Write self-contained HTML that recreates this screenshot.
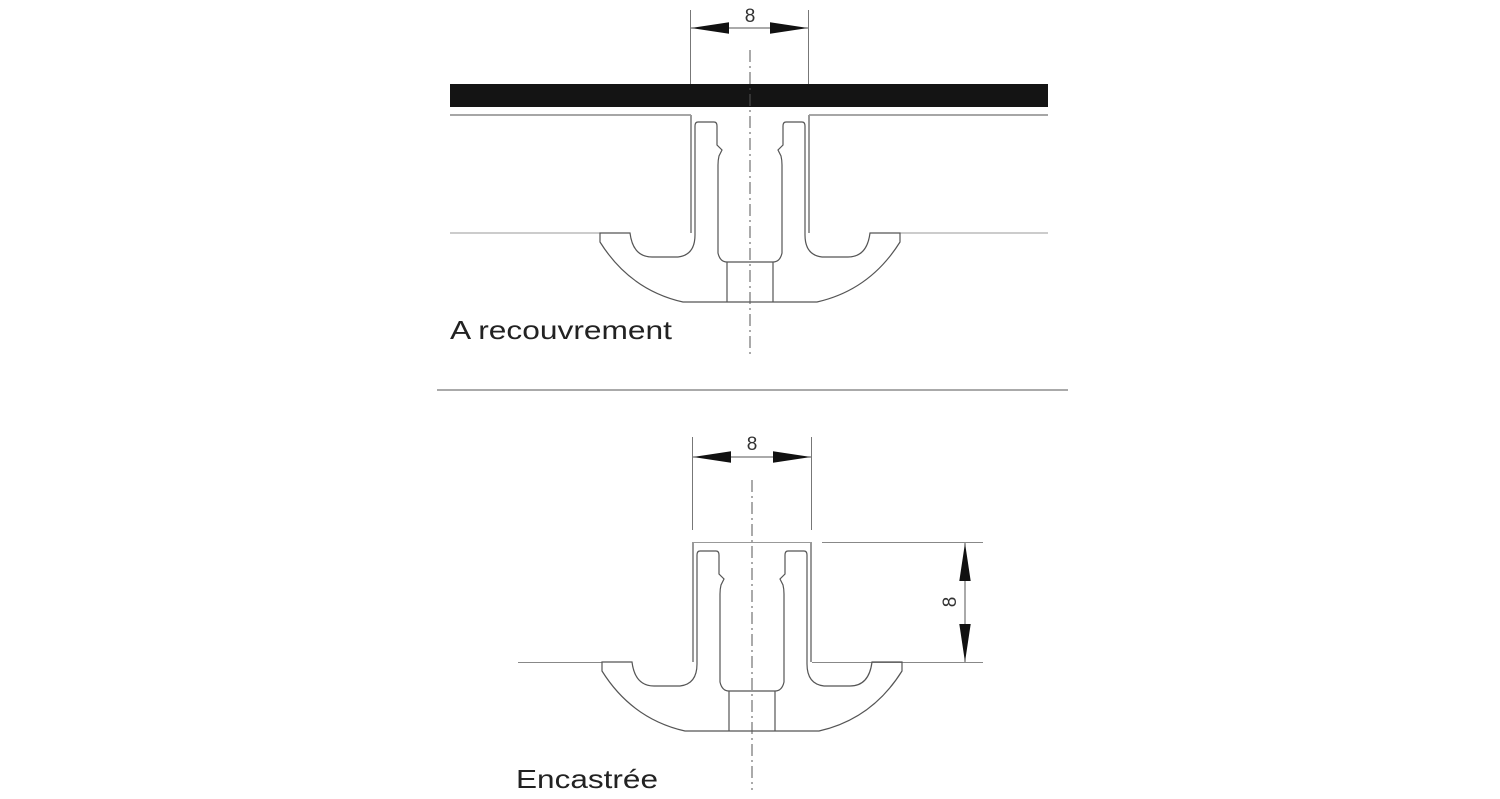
<!DOCTYPE html>
<html><head><meta charset="utf-8"><style>
html,body{margin:0;padding:0;background:#fff;}
svg{display:block;}
</style></head><body>
<svg width="1500" height="799" viewBox="0 0 1500 799" xmlns="http://www.w3.org/2000/svg" font-family="Liberation Sans, sans-serif">
<defs>
<path id="prof" fill="none" stroke="#555" stroke-width="1.2" d="
M600,233 L600,242 Q630,290 683,302 L817,302 Q870,290 900,242 L900,233 L870,233 Q867,257 848,257 L822,257 Q805,255 805,235 L805,126 Q805,122 802,122 L786,122 Q783,122 783,126 L783,145 L778,150 L781,156 Q782,160 782,165 L782,253 Q780,262 773,262 L727,262 Q720,262 718,253 L718,165 Q718,160 719,156 L722,150 L717,145 L717,126 Q717,122 714,122 L698,122 Q695,122 695,126 L695,235 Q695,255 678,257 L652,257 Q633,257 630,233 Z
M727,262 L727,302 M773,262 L773,302"/>
<marker id="ah" viewBox="0 0 40 12" refX="40" refY="6" markerWidth="38" markerHeight="12" markerUnits="userSpaceOnUse" orient="auto"><path d="M0,0 L40,6 L0,12 Z" fill="#111"/></marker>
</defs>

<!-- TOP -->
<line x1="690.5" y1="10" x2="690.5" y2="84" stroke="#777" stroke-width="1"/>
<line x1="808.5" y1="10" x2="808.5" y2="84" stroke="#777" stroke-width="1"/>
<line x1="750" y1="28" x2="691" y2="28" stroke="#555" stroke-width="1" marker-end="url(#ah)"/>
<line x1="750" y1="28" x2="808" y2="28" stroke="#555" stroke-width="1" marker-end="url(#ah)"/>
<text x="750" y="22" font-size="19" text-anchor="middle" fill="#333">8</text>
<rect x="450" y="84" width="598" height="23" fill="#141414"/>
<line x1="450" y1="115" x2="691" y2="115" stroke="#888" stroke-width="1.5"/>
<line x1="809" y1="115" x2="1048" y2="115" stroke="#888" stroke-width="1.5"/>
<line x1="691" y1="115" x2="691" y2="233" stroke="#999" stroke-width="2"/>
<line x1="809" y1="115" x2="809" y2="233" stroke="#999" stroke-width="2"/>
<line x1="450" y1="233" x2="600" y2="233" stroke="#999" stroke-width="1"/>
<line x1="900" y1="233" x2="1048" y2="233" stroke="#999" stroke-width="1"/>
<use href="#prof"/>
<line x1="750" y1="50" x2="750" y2="358" stroke="#555" stroke-width="1" stroke-dasharray="12,4,2,4"/>
<text x="450" y="339" font-size="26" fill="#222" textLength="222" lengthAdjust="spacingAndGlyphs">A recouvrement</text>

<line x1="437" y1="390" x2="1068" y2="390" stroke="#aaa" stroke-width="2"/>

<!-- BOTTOM -->
<line x1="692.5" y1="437" x2="692.5" y2="530" stroke="#777" stroke-width="1"/>
<line x1="811.5" y1="437" x2="811.5" y2="530" stroke="#777" stroke-width="1"/>
<line x1="752" y1="457" x2="693" y2="457" stroke="#555" stroke-width="1" marker-end="url(#ah)"/>
<line x1="752" y1="457" x2="811" y2="457" stroke="#555" stroke-width="1" marker-end="url(#ah)"/>
<text x="752" y="450" font-size="19" text-anchor="middle" fill="#333">8</text>
<line x1="692" y1="542.5" x2="812" y2="542.5" stroke="#999" stroke-width="1"/>
<line x1="822" y1="542.5" x2="983" y2="542.5" stroke="#888" stroke-width="1"/>
<line x1="812" y1="662.5" x2="983" y2="662.5" stroke="#888" stroke-width="1"/>
<line x1="518" y1="662.5" x2="602" y2="662.5" stroke="#888" stroke-width="1"/>
<line x1="693" y1="542" x2="693" y2="662" stroke="#999" stroke-width="2"/>
<line x1="811" y1="542" x2="811" y2="662" stroke="#999" stroke-width="2"/>
<use href="#prof" transform="translate(2,429)"/>
<line x1="965" y1="602" x2="965" y2="543" stroke="#555" stroke-width="1" marker-end="url(#ah)"/>
<line x1="965" y1="602" x2="965" y2="662" stroke="#555" stroke-width="1" marker-end="url(#ah)"/>
<text x="0" y="0" font-size="19" text-anchor="middle" fill="#333" transform="translate(956,602) rotate(-90)">8</text>
<line x1="752" y1="480" x2="752" y2="790" stroke="#555" stroke-width="1" stroke-dasharray="12,4,2,4"/>
<text x="516" y="788" font-size="26" fill="#222" textLength="142" lengthAdjust="spacingAndGlyphs">Encastrée</text>
</svg>
</body></html>
